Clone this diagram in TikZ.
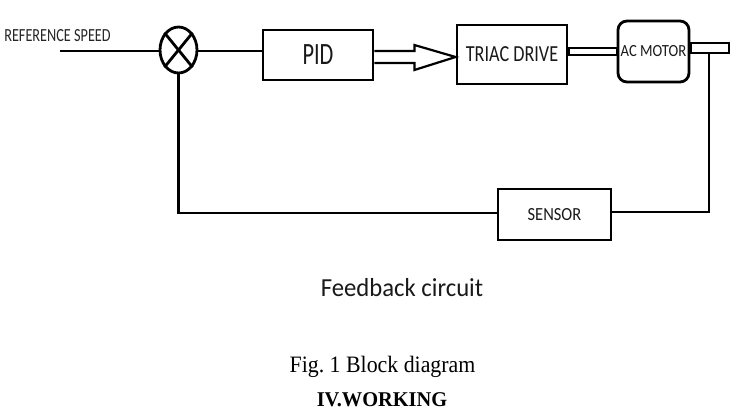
\documentclass[tikz,border=0pt]{standalone}
\usepackage{fontspec}
\setmainfont{Liberation Serif}
\newfontfamily\carl{Carlito}
\usetikzlibrary{shapes.geometric,calc}
\newcommand\lbl[3]{\scalebox{#1}[1]{\fontsize{#2}{#2}\selectfont\carl #3}}
\begin{document}
\begin{tikzpicture}[x=1pt,y=-1pt,
  wire/.style={line width=2.8pt},
  blk/.style={draw,line width=2.8pt,rectangle,inner sep=0pt,text=black!90},
  dbl/.style={draw,line width=2.2pt,fill=white,line join=miter}]
\useasboundingbox (0,0) rectangle (744,416);
% blocks
\node[draw,ellipse,line width=2.8pt,minimum width=37,minimum height=46,inner sep=0pt] (sum) at (178.5,50) {};
\node[blk,minimum width=110,minimum height=50] (pid) at (318,55) {\lbl{0.72}{31}{PID}};
\node[blk,minimum width=110,minimum height=59] (triac) at (512,54.5) {\lbl{0.79}{23}{TRIAC DRIVE}};
\node[blk,rounded corners=9pt,minimum width=71,minimum height=61] (motor) at (653.5,51.5) {\lbl{0.86}{17}{AC MOTOR}};
\node[blk,minimum width=113,minimum height=51] (sensor) at (554.5,214.5) {\lbl{0.89}{18.5}{SENSOR}};
% texts
\node[anchor=base,inner sep=0pt,text=black!85] (ref) at (57.5,41) {\lbl{0.77}{18.5}{REFERENCE SPEED}};
\node[anchor=base,inner sep=0pt,text=black!90] (fb) at (402,296) {\lbl{0.95}{26}{Feedback circuit}};
\node[anchor=base,inner sep=0pt] (fig) at (382.5,372) {\scalebox{0.93}[1]{\fontsize{23.5}{23.5}\selectfont Fig.\ 1 Block diagram}};
\node[anchor=base,inner sep=0pt] (work) at (382,406) {\scalebox{0.97}[1]{\fontsize{21}{21}\selectfont\bfseries IV.WORKING}};
% coordinates
\coordinate (in) at (60,51);
\coordinate (shaftend) at (729,48);
\coordinate (tap) at (709,53);
\coordinate (corner) at (709,212);
% summing junction cross
\draw[wire] (sum.north west) -- (sum.south east);
\draw[wire] (sum.north east) -- (sum.south west);
% input
\draw[wire] (in) -- (in -| sum.west);
% sum -> pid
\draw[wire] (sum.east |- in) -- (in -| pid.west);
% double arrow pid -> triac
\draw[dbl] ($(pid.east)+(0,-4)$) -- ($(pid.east)+(40,-4)$) -- ($(pid.east)+(40,-10)$)
  -- ($(triac.west)+(0,2.5)$) -- ($(pid.east)+(40,15)$) -- ($(pid.east)+(40,8)$)
  -- ($(pid.east)+(0,8)$);
% double line triac -> motor
\draw[dbl] ($(triac.east)+(0,-6.5)$) rectangle ($(motor.west |- triac.east)+(0,0.5)$);
% shaft
\draw[dbl] ($(motor.east)+(0,-8.5)$) rectangle ($(shaftend)+(0,5)$);
% feedback
\draw[wire] (tap) -- (corner) -- (corner -| sensor.east);
\draw[wire] (sensor.west |- 0,213) -- (sum.south |- 0,213) -- (sum.south);
\end{tikzpicture}
\end{document}
